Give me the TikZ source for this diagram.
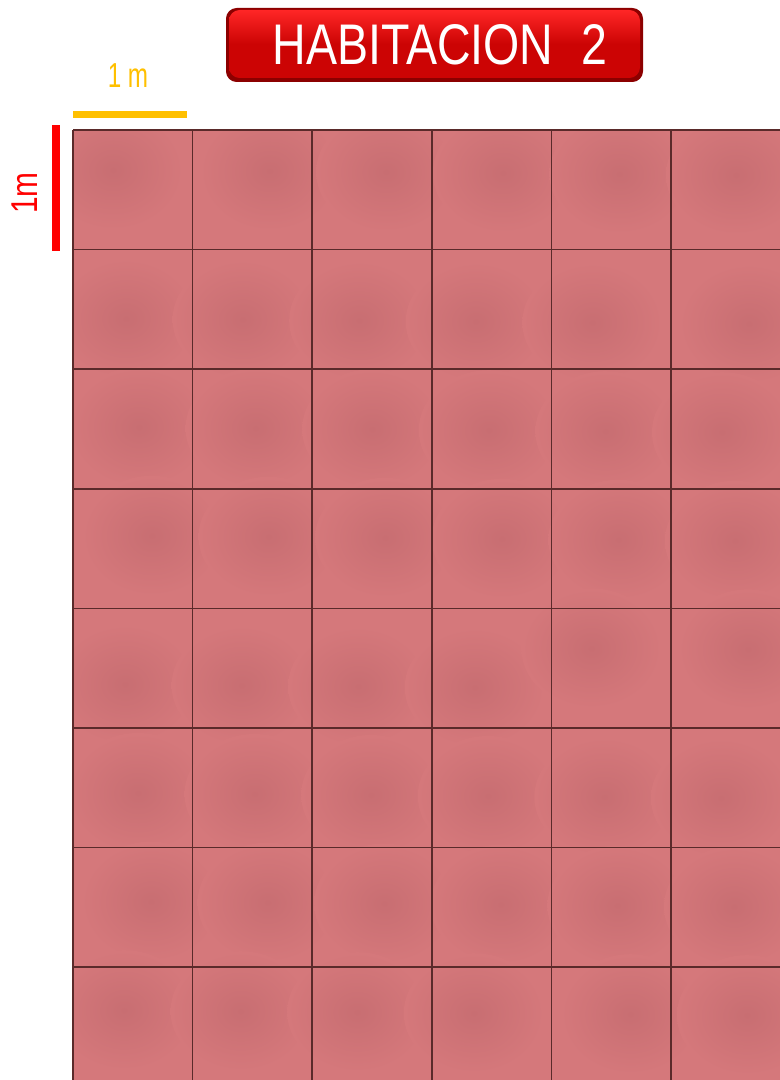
\documentclass[tikz,border=0pt]{standalone}
\usepackage{fontspec}
\setmainfont{Liberation Sans}
\usepackage{graphicx}
\definecolor{tile}{RGB}{213,120,123}
\definecolor{tiledark}{RGB}{200,110,114}
\definecolor{grout}{RGB}{90,42,42}
\definecolor{titlered}{RGB}{204,4,4}
\definecolor{titleedge}{RGB}{140,0,0}
\definecolor{scaleyellow}{RGB}{255,192,0}
\definecolor{scalered}{RGB}{255,0,0}
\tikzset{
  groutline/.style={draw=grout, line width=1.2pt},
  titlebox/.style={rounded corners=8pt},
}
\begin{document}
\begin{tikzpicture}[x=0.75pt,y=-0.75pt]
\useasboundingbox (0,0) rectangle (780,1080);
\fill[white] (0,0) rectangle (780,1080);
% floor
\fill[tile] (73,130) rectangle (780,1080);
% subtle mottling
\begin{scope}
\clip (73,130) rectangle (780,1080);
\foreach \cx in {0,...,5}{
  \foreach \cy in {0,...,7}{
    \pgfmathsetmacro{\ox}{mod(37*\cx+53*\cy,40)+40}
    \pgfmathsetmacro{\oy}{mod(41*\cx+29*\cy,40)+40}
    \shade[inner color=tiledark, outer color=tile]
      ({73+119.6*\cx+\ox},{130+119.6*\cy+\oy}) ellipse (70 and 60);
  }
}
\end{scope}
% grout lines
\foreach \i in {0,...,5}{
  \draw[groutline] ({73+119.6*\i},130) -- ({73+119.6*\i},1080);
}
\foreach \j in {0,...,7}{
  \draw[groutline] (73,{130+119.6*\j}) -- (780,{130+119.6*\j});
}
% title
\fill[titleedge, titlebox] (226,8) rectangle (643,82);
\shade[titlebox, top color=red!85!white, bottom color=titlered, middle color=titlered] (229,10) rectangle (640,78);
\node[text=white, inner sep=0pt] (title) at (440,45)
  {\resizebox{251pt}{30pt}{\fontsize{42}{42}\selectfont HABITACION\hspace{0.6em}2}};
% scale marks
\fill[scaleyellow] (73,111) rectangle (187,118);
\node[text=scaleyellow, inner sep=0pt, anchor=base] (ylabel) at (128,88)
  {\scalebox{0.7}[1]{\fontsize{26}{26}\selectfont 1 m}};
\fill[scalered] (52,125) rectangle (60,251);
\node[text=scalered, inner sep=0pt, rotate=90, anchor=base] (rlabel) at (37,193)
  {\scalebox{0.8}[1]{\fontsize{28}{28}\selectfont 1m}};
\end{tikzpicture}
\end{document}
